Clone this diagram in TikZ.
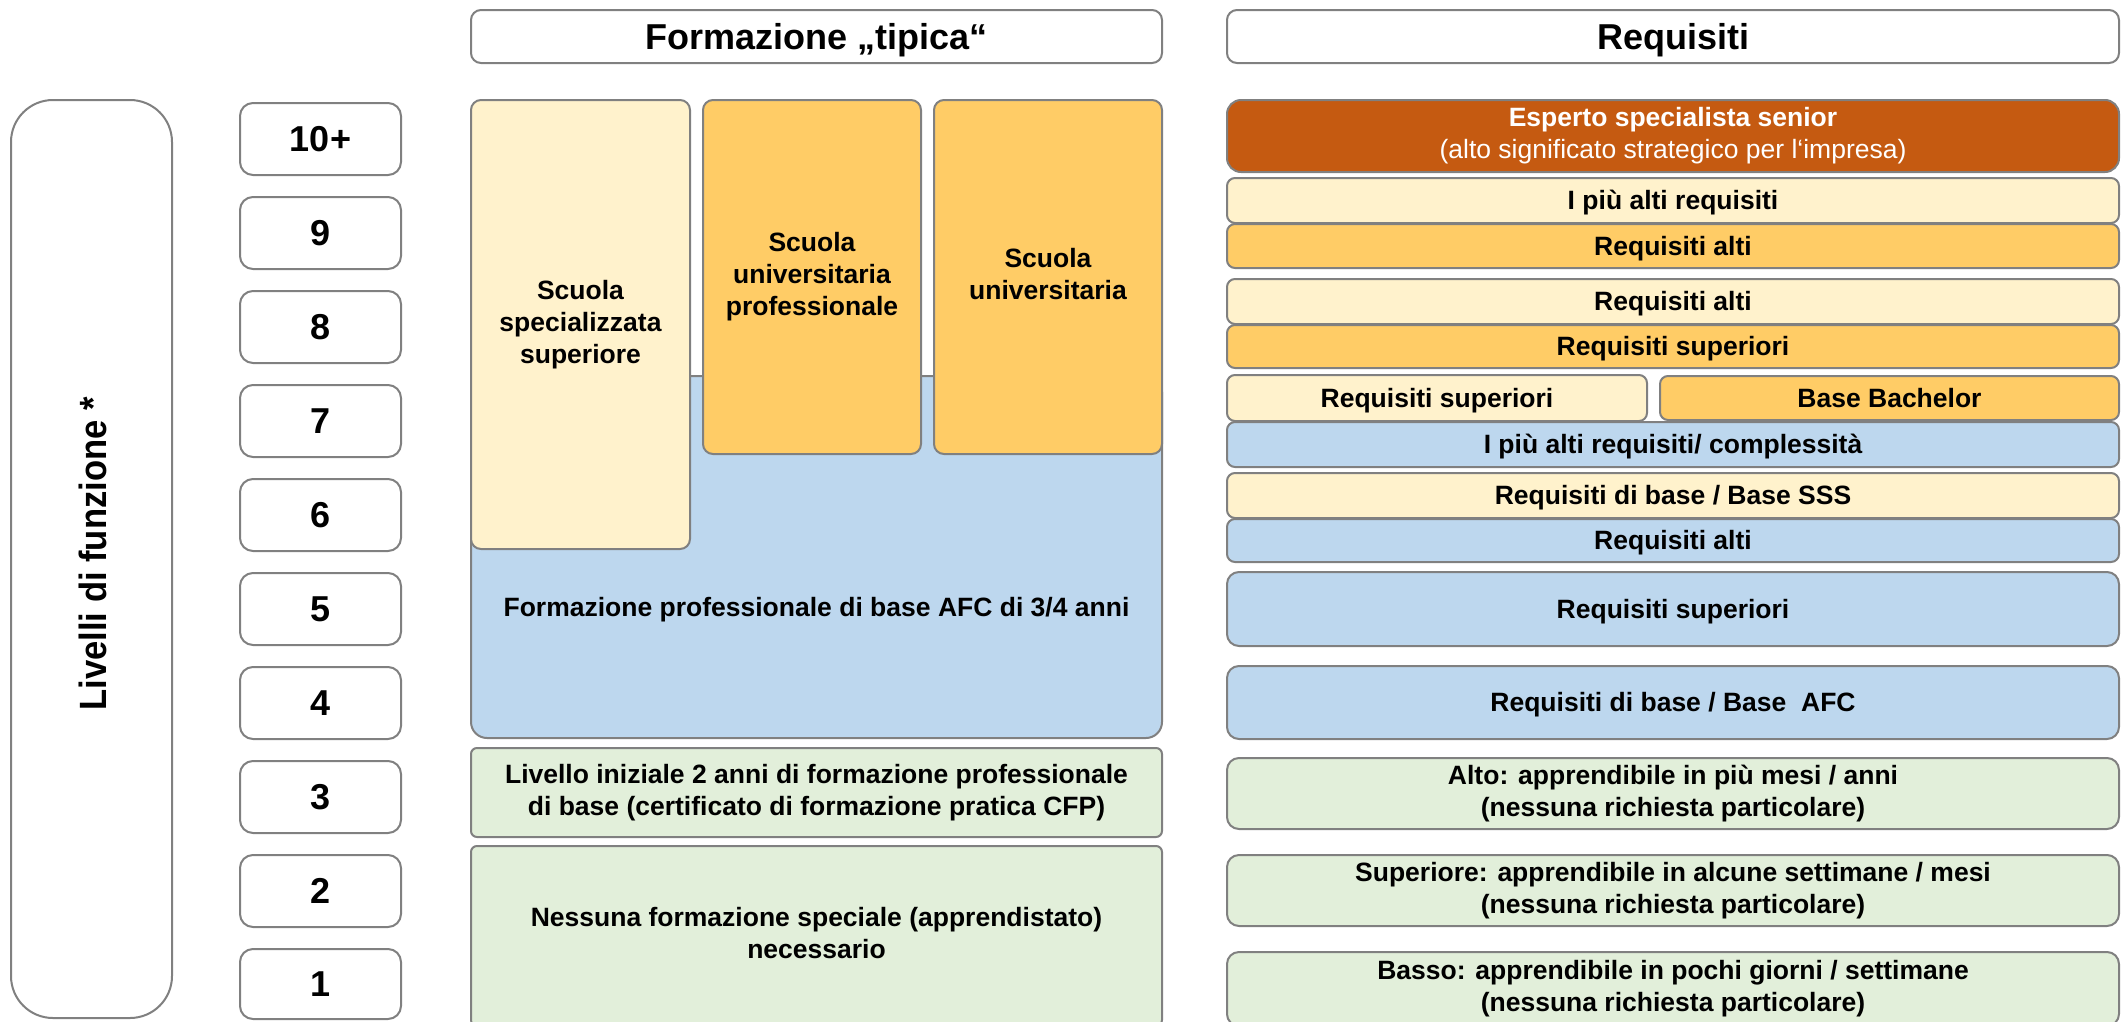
\documentclass[tikz,border=0pt]{standalone}
\usepackage{fontspec}
\usepackage{graphicx}
\setmainfont{Liberation Sans}
\definecolor{bordergray}{HTML}{808080}
\definecolor{lyellow}{HTML}{FFF2CC}
\definecolor{lorange}{HTML}{FFCC66}
\definecolor{dorange}{HTML}{C55A11}
\definecolor{lblue}{HTML}{BDD7EE}
\definecolor{lgreen}{HTML}{E2EFDA}
\newcommand\pstrut{\rule[-0.21em]{0pt}{1.115em}}
\newcommand\mybox[7]{%
  \pgfmathsetmacro\bw{#5-#3}\pgfmathsetmacro\bh{#6-#4}%
  \node[#1, minimum width=\bw pt, minimum height=\bh pt] (#2) at ({(#3+#5)/2},{(#4+#6)/2}) {#7};}
\begin{document}
\begin{tikzpicture}[x=1pt,y=-1pt,
  base/.style={draw=bordergray, line width=2pt, rounded corners=10pt, inner sep=0pt, align=center,
    font=\fontsize{26.5}{32}\selectfont\bfseries,
    execute at begin node=\pstrut, execute at end node=\pstrut},
  headbox/.style={base, fill=white, font=\fontsize{36}{40}\selectfont\bfseries},
  levelbox/.style={base, rounded corners=13pt, fill=white, font=\fontsize{36}{40}\selectfont\bfseries},
  ybox/.style={base, fill=lyellow},
  obox/.style={base, fill=lorange},
  dbox/.style={base, fill=dorange, text=white},
  bbox/.style={base, fill=lblue},
  gbox/.style={base, fill=lgreen},
  plain/.style={inner sep=0pt, align=center, font=\fontsize{26.5}{32}\selectfont\bfseries,
    execute at begin node=\pstrut, execute at end node=\pstrut}]
\clip (0,0) rectangle (2121,1021);
\fill[white] (0,0) rectangle (2121,1021);

% headers
\mybox{headbox}{hF}{471}{10}{1162}{63}{Formazione „tipica“}
\mybox{headbox}{hR}{1227}{10}{2119}{63}{Requisiti}

% left label
\mybox{base, rounded corners=42pt, fill=white}{lv}{11}{100}{172}{1018}{}
\node[rotate=90, inner sep=0pt, font=\fontsize{38}{42}\selectfont\bfseries] (lvtxt) at (93,554) {\scalebox{0.91}[1]{Livelli di funzione *}};

% level numbers
\mybox{levelbox}{L10}{240}{103}{401}{175}{10+}
\mybox{levelbox}{L9}{240}{197}{401}{269}{9}
\mybox{levelbox}{L8}{240}{291}{401}{363}{8}
\mybox{levelbox}{L7}{240}{385}{401}{457}{7}
\mybox{levelbox}{L6}{240}{479}{401}{551}{6}
\mybox{levelbox}{L5}{240}{573}{401}{645}{5}
\mybox{levelbox}{L4}{240}{667}{401}{739}{4}
\mybox{levelbox}{L3}{240}{761}{401}{833}{3}
\mybox{levelbox}{L2}{240}{855}{401}{927}{2}
\mybox{levelbox}{L1}{240}{949}{401}{1019}{1}

% middle column
\mybox{bbox, rounded corners=16pt}{afc}{471}{376}{1162}{738}{}
\node[plain] (afctxt) at (816.5,607) {Formazione professionale di base AFC di 3/4 anni};
\mybox{ybox}{sss}{471}{100}{690}{549}{Scuola\\specializzata\\superiore}
\mybox{obox}{sup}{703}{100}{921}{454}{Scuola\\universitaria\\professionale}
\mybox{obox}{uni}{934}{100}{1162}{454}{Scuola\\universitaria}
\mybox{gbox, rounded corners=6pt}{cfp}{471}{748}{1162}{837}{Livello iniziale 2 anni di formazione professionale\\di base (certificato di formazione pratica CFP)}
\mybox{gbox, rounded corners=6pt}{nessuna}{471}{846}{1162}{1026}{Nessuna formazione speciale (apprendistato)\\necessario}

% right column
\mybox{dbox, rounded corners=14pt}{esp}{1227}{100}{2119}{172}{Esperto specialista senior\\{\mdseries (alto significato strategico per l‘impresa)}}
\mybox{ybox, rounded corners=8pt}{r1}{1227}{178}{2119}{223}{I più alti requisiti}
\mybox{obox, rounded corners=8pt}{r2}{1227}{224}{2119}{268}{Requisiti alti}
\mybox{ybox, rounded corners=8pt}{r3}{1227}{279}{2119}{324}{Requisiti alti}
\mybox{obox, rounded corners=8pt}{r4}{1227}{325}{2119}{368}{Requisiti superiori}
\mybox{ybox, rounded corners=8pt}{r5a}{1227}{375}{1647}{421}{Requisiti superiori}
\mybox{obox, rounded corners=8pt}{r5b}{1660}{376}{2119}{420}{Base Bachelor}
\mybox{bbox, rounded corners=8pt}{r6}{1227}{422}{2119}{467}{I più alti requisiti/ complessità}
\mybox{ybox, rounded corners=8pt}{r7}{1227}{473}{2119}{518}{Requisiti di base / Base SSS}
\mybox{bbox, rounded corners=8pt}{r8}{1227}{519}{2119}{562}{Requisiti alti}
\mybox{bbox, rounded corners=12pt}{r9}{1227}{572}{2119}{646}{Requisiti superiori}
\mybox{bbox, rounded corners=12pt}{r10}{1227}{666}{2119}{739}{Requisiti di base / Base\ \ AFC}
\mybox{gbox, rounded corners=12pt}{r11}{1227}{758}{2119}{829}{Alto: apprendibile in più mesi / anni\\(nessuna richiesta particolare)}
\mybox{gbox, rounded corners=12pt}{r12}{1227}{855}{2119}{926}{Superiore: apprendibile in alcune settimane / mesi\\(nessuna richiesta particolare)}
\mybox{gbox, rounded corners=12pt}{r13}{1227}{952}{2119}{1026}{Basso: apprendibile in pochi giorni / settimane\\(nessuna richiesta particolare)}
\end{tikzpicture}
\end{document}
